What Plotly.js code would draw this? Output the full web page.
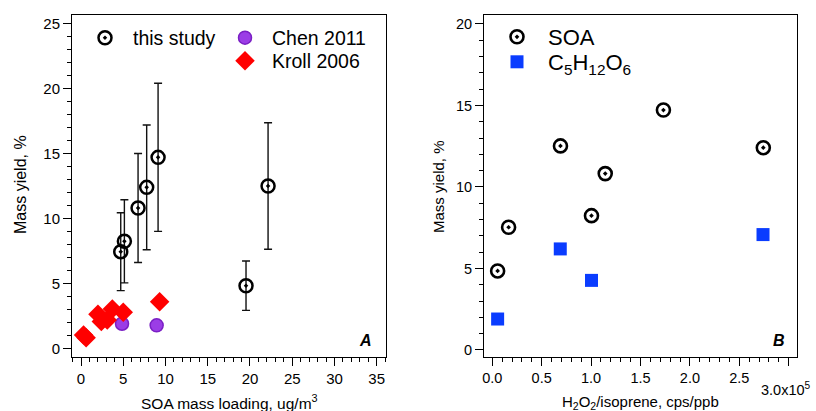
<!DOCTYPE html>
<html>
<head>
<meta charset="utf-8">
<script src="https://cdn.plot.ly/plotly-3.0.1.min.js"></script>
<style>html,body{margin:0;padding:0;background:#fff;}#chart{width:816px;height:411px;}</style>
</head>
<body>
<div id="chart"></div>
<script>
// ---- Panel A data ----
const studyX   = [4.70, 5.13, 6.75, 7.77, 9.12, 19.53, 22.14];
const studyY   = [7.47, 8.27, 10.83, 12.42, 14.73, 4.85, 12.53];
const studyErr = [3.0, 3.2, 4.2, 4.8, 5.7, 1.9, 4.87];
const chenX  = [4.85, 8.95];
const chenY  = [1.92, 1.80];
const krollX = [0.3, 0.6, 2.0, 2.4, 3.1, 3.7, 5.0, 9.3];
const krollY = [1.05, 0.85, 2.65, 2.1, 2.2, 3.05, 2.8, 3.62];
// ---- Panel B data ----
const soaX = [5400, 16500, 69000, 100400, 114300, 173200, 274300];
const soaY = [4.85, 7.53, 12.52, 8.24, 10.82, 14.72, 12.41];
const c5X  = [5400, 68800, 100400, 274000];
const c5Y  = [1.90, 6.20, 4.27, 7.08];
// ---- tick labels ----
const bTickVals = [0, 50000, 100000, 150000, 200000, 250000, 300000];
const bTickText = ["0.0", "0.5", "1.0", "1.5", "2.0", "2.5", ""];
const bLastTick = "3.0x10<sup>5</sup>";

const W = 816, H = 411;
const FONT = "Liberation Sans, Arial, sans-serif";

const traces = [
  {x: studyX, y: studyY, type: 'scatter', mode: 'markers', name: 'this study', legend: 'legend',
   showlegend: true, xaxis: 'x', yaxis: 'y',
   error_y: {type: 'data', array: studyErr, visible: true, color: '#111', thickness: 1.4, width: 4},
   marker: {symbol: 'circle-open-dot', size: 13, color: '#000', line: {width: 2.5}}},
  {x: chenX, y: chenY, type: 'scatter', mode: 'markers', name: 'Chen 2011', legend: 'legend2',
   showlegend: true, xaxis: 'x', yaxis: 'y',
   marker: {symbol: 'circle', size: 13, color: '#9b3de6', line: {width: 1.5, color: '#7a1fc4'}}},
  {x: krollX, y: krollY, type: 'scatter', mode: 'markers', name: 'Kroll 2006', legend: 'legend3',
   showlegend: true, xaxis: 'x', yaxis: 'y',
   marker: {symbol: 'diamond', size: 15, color: '#ff0000', line: {width: 0}}},
  {x: soaX, y: soaY, type: 'scatter', mode: 'markers', name: 'SOA', legend: 'legend4',
   showlegend: true, xaxis: 'x2', yaxis: 'y2',
   marker: {symbol: 'circle-open-dot', size: 13, color: '#000', line: {width: 2.6}}},
  {x: c5X, y: c5Y, type: 'scatter', mode: 'markers', name: 'C<sub>5</sub>H<sub>12</sub>O<sub>6</sub>', legend: 'legend5',
   showlegend: true, xaxis: 'x2', yaxis: 'y2',
   marker: {symbol: 'square', size: 13, color: '#0a3cff', line: {width: 0}}}
];

function leg(xc, yc, fs, iw) {
  return {x: (xc - 5 - iw / 2) / W, xanchor: 'left', y: 1 - yc / H, yanchor: 'middle',
          font: {size: fs, family: FONT, color: '#000'}, itemwidth: iw, visible: true,
          bgcolor: 'rgba(0,0,0,0)', borderwidth: 0, tracegroupgap: 0};
}

const axBase = {showline: true, mirror: true, linecolor: '#000', linewidth: 1,
  ticks: 'outside', ticklen: 8, tickwidth: 1, tickcolor: '#000',
  showgrid: false, zeroline: false, fixedrange: true,
  tickfont: {family: FONT, size: 15, color: '#000'}};

const yDom = [1 - 357 / H, 1 - 15 / H];

const layout = {
  width: W, height: H,
  showlegend: true,
  margin: {l: 0, r: 0, t: 0, b: 0},
  paper_bgcolor: '#fff', plot_bgcolor: '#fff',
  font: {family: FONT, color: '#000'},
  xaxis: Object.assign({}, axBase, {domain: [72 / W, 386 / W], anchor: 'y', range: [-1.07, 36.1],
    tickmode: 'linear', tick0: 0, dtick: 5,
    minor: {dtick: 1, tick0: 0, ticks: 'outside', ticklen: 4, tickcolor: '#000', showgrid: false}}),
  yaxis: Object.assign({}, axBase, {domain: yDom, anchor: 'x', range: [-0.64, 25.69],
    tickmode: 'linear', tick0: 0, dtick: 5,
    minor: {dtick: 1, tick0: 0, ticks: 'outside', ticklen: 4, tickcolor: '#000', showgrid: false}}),
  xaxis2: Object.assign({}, axBase, {domain: [484 / W, 797 / W], anchor: 'y2', range: [-8400, 308400],
    tickmode: 'array', tickvals: bTickVals, ticktext: bTickText,
    tickfont: {family: FONT, size: 14.5, color: '#000'},
    minor: {dtick: 10000, tick0: 0, ticks: 'outside', ticklen: 4, tickcolor: '#000', showgrid: false}}),
  yaxis2: Object.assign({}, axBase, {domain: yDom, anchor: 'x2', range: [-0.43, 20.55],
    tickmode: 'linear', tick0: 0, dtick: 5,
    tickfont: {family: FONT, size: 14.5, color: '#000'},
    minor: {dtick: 1, tick0: 0, ticks: 'outside', ticklen: 4, tickcolor: '#000', showgrid: false}}),
  legend: leg(105, 38, 19.5, 46),
  legend2: leg(245, 38, 19.5, 44),
  legend3: leg(245, 61, 19.5, 44),
  legend4: leg(517, 37, 22, 52),
  legend5: leg(517, 62, 22, 52),
  annotations: [
    {text: 'SOA mass loading, ug/m<sup>3</sup>', xref: 'paper', yref: 'paper',
     x: 229 / W, y: 1 - 402 / H, xanchor: 'center', yanchor: 'middle', showarrow: false,
     font: {family: FONT, size: 15.5, color: '#000'}},
    {text: 'H<sub>2</sub>O<sub>2</sub>/isoprene, cps/ppb', xref: 'paper', yref: 'paper',
     x: 640 / W, y: 1 - 402 / H, xanchor: 'center', yanchor: 'middle', showarrow: false,
     font: {family: FONT, size: 15, color: '#000'}},
    {text: 'Mass yield, %', xref: 'paper', yref: 'paper', textangle: -90,
     x: 20 / W, y: 1 - 185 / H, xanchor: 'center', yanchor: 'middle', showarrow: false,
     font: {family: FONT, size: 16, color: '#000'}},
    {text: 'Mass yield, %', xref: 'paper', yref: 'paper', textangle: -90,
     x: 438 / W, y: 1 - 187 / H, xanchor: 'center', yanchor: 'middle', showarrow: false,
     font: {family: FONT, size: 15, color: '#000'}},
    {text: bLastTick, xref: 'x2', yref: 'paper', x: bTickVals[bTickVals.length - 1], xshift: -3,
     y: 1 - 389 / H, xanchor: 'center', yanchor: 'middle', showarrow: false,
     font: {family: FONT, size: 14.5, color: '#000'}},
    {text: '<b><i>A</i></b>', xref: 'paper', yref: 'paper', x: 365.5 / W, y: 1 - 340 / H,
     xanchor: 'center', yanchor: 'middle', showarrow: false,
     font: {family: FONT, size: 16, color: '#000'}},
    {text: '<b><i>B</i></b>', xref: 'paper', yref: 'paper', x: 779 / W, y: 1 - 340.5 / H,
     xanchor: 'center', yanchor: 'middle', showarrow: false,
     font: {family: FONT, size: 16, color: '#000'}}
  ]
};

Plotly.newPlot('chart', traces, layout, {displayModeBar: false, staticPlot: true});
</script>
</body>
</html>
